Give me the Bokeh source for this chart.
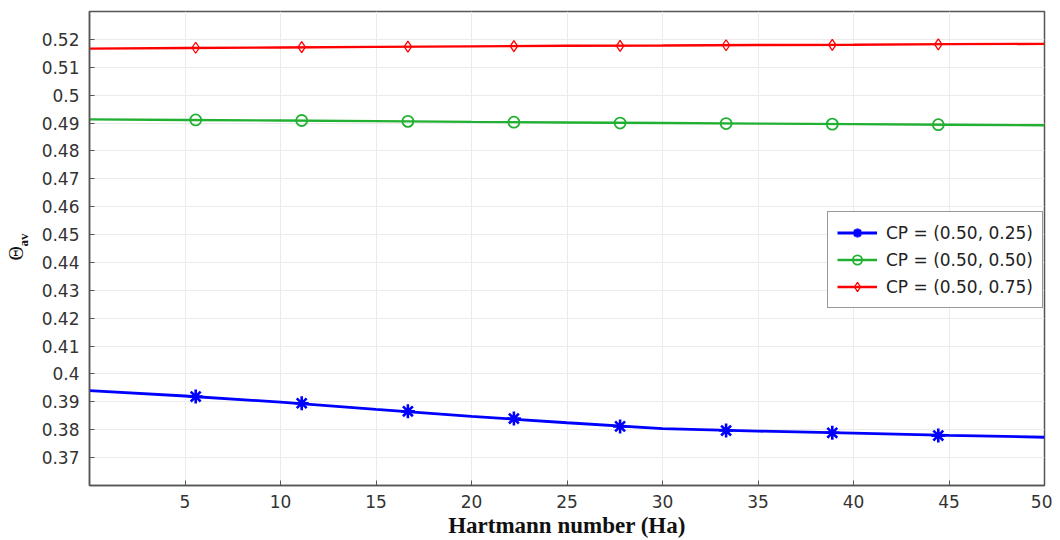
from bokeh.plotting import figure
from bokeh.models import FixedTicker, Legend, CustomJSTickFormatter, Title
from bokeh.embed import file_html
from bokeh.resources import INLINE

# ---- data ----
ha_line = [0, 5, 10, 15, 20, 25, 30, 35, 40, 45, 50]
ha_mark = [5.56, 11.11, 16.67, 22.22, 27.78, 33.33, 38.89, 44.44]

cp025_line = [0.3940, 0.3921, 0.3899, 0.3873, 0.3848, 0.3825, 0.3804, 0.3795, 0.3788, 0.3780, 0.3773]
cp025_mark = [0.3919, 0.3895, 0.3866, 0.3840, 0.3812, 0.3797, 0.3789, 0.3779]

cp050_line = [0.4913, 0.4911, 0.4909, 0.4907, 0.4904, 0.4902, 0.4900, 0.4898, 0.4896, 0.4894, 0.4892]
cp050_mark = [0.4911, 0.4909, 0.4906, 0.4903, 0.4900, 0.4898, 0.4896, 0.4894]

cp075_line = [0.5167, 0.5169, 0.5171, 0.5173, 0.5175, 0.5177, 0.5178, 0.5180, 0.5181, 0.5183, 0.5184]
cp075_mark = [0.5170, 0.5172, 0.5174, 0.5176, 0.5177, 0.5179, 0.5180, 0.5182]

labels = ["CP = (0.50, 0.25)", "CP = (0.50, 0.50)", "CP = (0.50, 0.75)"]
colors = ["#0000ff", "#22b033", "#ff0000"]

x_ticks = [5, 10, 15, 20, 25, 30, 35, 40, 45, 50]
y_ticks = [0.37, 0.38, 0.39, 0.40, 0.41, 0.42, 0.43, 0.44, 0.45, 0.46, 0.47, 0.48, 0.49, 0.50, 0.51, 0.52]

p = figure(frame_width=955, frame_height=474, x_range=(0, 50), y_range=(0.36, 0.53),
           output_backend="svg", toolbar_location=None,
           min_border_left=89, min_border_top=11, min_border_right=8, min_border_bottom=50)

p.background_fill_color = "white"
p.border_fill_color = "white"
p.outline_line_color = "#555555"
p.outline_line_width = 1.5

fmt = CustomJSTickFormatter(code="return String(Math.round(tick*100)/100)")

for ax in [p.xaxis[0], p.yaxis[0]]:
    ax.major_label_text_font = "DejaVu Sans"
    ax.major_label_text_font_size = "17px"
    ax.major_label_text_color = "#333333"
    ax.major_tick_in = 5
    ax.major_tick_out = 0
    ax.minor_tick_line_color = None
    ax.axis_line_color = "#555555"
    ax.axis_line_width = 1.5
    ax.major_tick_line_color = "#555555"

p.xaxis[0].ticker = FixedTicker(ticks=x_ticks)
p.yaxis[0].ticker = FixedTicker(ticks=y_ticks)
p.yaxis[0].formatter = fmt
p.xaxis[0].major_label_standoff = 9
p.yaxis[0].major_label_standoff = 10

p.xaxis[0].axis_label = "Hartmann number (Ha)"
p.xaxis[0].axis_label_text_font = "Liberation Serif"
p.xaxis[0].axis_label_text_font_style = "bold"
p.xaxis[0].axis_label_text_font_size = "23px"
p.xaxis[0].axis_label_text_color = "#111111"
p.xaxis[0].axis_label_standoff = 2

p.xgrid.ticker = FixedTicker(ticks=x_ticks)
p.ygrid.ticker = FixedTicker(ticks=y_ticks)
p.grid.grid_line_color = "#ebebeb"
p.grid.grid_line_width = 1

# series
r1l = p.line(ha_line, cp025_line, line_color=colors[0], line_width=2.8)
r1m = p.scatter(ha_mark, cp025_mark, marker="asterisk", size=14, line_color=colors[0], line_width=2.6)
r2l = p.line(ha_line, cp050_line, line_color=colors[1], line_width=2.4)
r2m = p.scatter(ha_mark, cp050_mark, marker="circle", size=11, line_color=colors[1],
                fill_color=None, line_width=1.8)
r3l = p.line(ha_line, cp075_line, line_color=colors[2], line_width=2.4)
r3m = p.scatter(ha_mark, cp075_mark, marker="diamond", size=11, line_color=colors[2],
                fill_color=None, line_width=1.3)

legend = Legend(items=[(labels[0], [r1l, r1m]), (labels[1], [r2l, r2m]), (labels[2], [r3l, r3m])],
                location=(738, 177))
legend.label_text_font = "DejaVu Sans"
legend.label_text_font_size = "17px"
legend.label_text_color = "#222222"
legend.glyph_width = 40
legend.glyph_height = 23
legend.label_height = 23
legend.label_standoff = 9
legend.spacing = 4
legend.padding = 9
legend.margin = 0
legend.border_line_color = "#333333"
legend.border_line_width = 1.5
legend.background_fill_color = "white"
legend.background_fill_alpha = 1
p.add_layout(legend, "center")

# y-axis label: Theta with bold subscript "av" (as side titles in the left panel)
t_av = Title(text="av", align="left", offset=239, standoff=16,
             text_font="Liberation Serif", text_font_style="bold", text_font_size="13px",
             text_color="#111111")
t_theta = Title(text="Θ", align="left", offset=225, standoff=-42,
                text_font="Liberation Serif", text_font_style="normal", text_font_size="20px",
                text_color="#111111")
p.add_layout(t_av, "left")
p.add_layout(t_theta, "left")

open("out.html", "w").write(file_html(p, INLINE))
